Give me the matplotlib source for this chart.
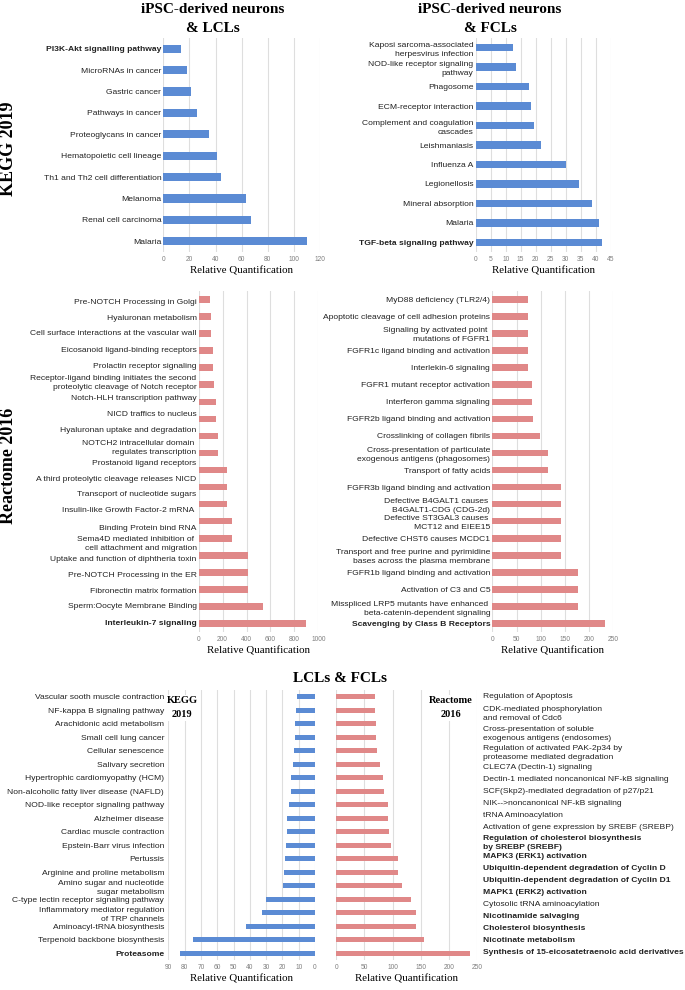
import matplotlib
matplotlib.use('Agg')
import matplotlib.pyplot as plt

# ---- data (listed top to bottom as in the figure) ----
kegg_lcl_labels = ['PI3K-Akt signalling pathway', 'MicroRNAs in cancer', 'Gastric cancer',
                   'Pathways in cancer', 'Proteoglycans in cancer', 'Hematopoietic cell lineage',
                   'Th1 and Th2 cell differentiation', 'Melanoma', 'Renal cell carcinoma', 'Malaria']
kegg_lcl_vals = [13.6, 18.5, 21.3, 25.6, 35.1, 41.0, 44.1, 63.3, 67.2, 109.7]

kegg_fcl_labels = ['Kaposi sarcoma-associated\nherpesvirus infection',
                   'NOD-like receptor signaling\npathway', 'Phagosome', 'ECM-receptor interaction',
                   'Complement and coagulation\ncascades', 'Leishmaniasis', 'Influenza A',
                   'Legionellosis', 'Mineral absorption', 'Malaria', 'TGF-beta signaling pathway']
kegg_fcl_vals = [12.3, 13.3, 17.8, 18.4, 19.4, 21.7, 30.2, 34.4, 38.7, 41.0, 42.2]

react_lcl_labels = ['Pre-NOTCH Processing in Golgi', 'Hyaluronan metabolism',
                    'Cell surface interactions at the vascular wall', 'Eicosanoid ligand-binding receptors',
                    'Prolactin receptor signaling',
                    'Receptor-ligand binding initiates the second\nproteolytic cleavage of Notch receptor',
                    'Notch-HLH transcription pathway', 'NICD traffics to nucleus',
                    'Hyaluronan uptake and degradation',
                    'NOTCH2 intracellular domain \nregulates transcription', 'Prostanoid ligand receptors',
                    'A third proteolytic cleavage releases NICD', 'Transcport of nucleotide sugars',
                    'Insulin-like Growth Factor-2 mRNA \n\nBinding Protein bind RNA',
                    'Sema4D mediated inhibition of \ncell attachment and migration',
                    'Uptake and function of diphtheria toxin', 'Pre-NOTCH Processing in the ER',
                    'Fibronectin matrix formation', 'Sperm:Oocyte Membrane Binding',
                    'Interleukin-7 signaling']
react_lcl_vals = [92, 100, 100, 117, 117, 128, 142, 142, 158, 158,
                  236, 236, 236, 275, 275, 411, 411, 411, 536, 894]

react_fcl_labels = ['MyD88 deficiency (TLR2/4)', 'Apoptotic cleavage of cell adhesion proteins',
                    'Signaling by activated point \nmutations of FGFR1',
                    'FGFR1c ligand binding and activation', 'Interlekin-6 signaling',
                    'FGFR1 mutant receptor activation', 'Interferon gamma signaling',
                    'FGFR2b ligand binding and activation', 'Crosslinking of collagen fibrils',
                    'Cross-presentation of particulate\nexogenous antigens (phagosomes)',
                    'Transport of fatty acids', 'FGFR3b ligand binding and activation',
                    'Defective B4GALT1 causes \nB4GALT1-CDG (CDG-2d)',
                    'Defective ST3GAL3 causes \nMCT12 and EIEE15', 'Defective CHST6 causes MCDC1',
                    'Transport and free purine and pyrimidine\nbases across the plasma membrane',
                    'FGFR1b ligand binding and activation', 'Activation of C3 and C5',
                    'Misspliced LRP5 mutants have enhanced \nbeta-catenin-dependent signaling',
                    'Scavenging by Class B Receptors']
react_fcl_vals = [74, 74, 74, 74, 74, 82, 82, 85, 98, 116,
                  116, 141, 141, 141, 141, 141, 177, 177, 177, 232]

both_kegg_labels = ['Vascular sooth muscle contraction', 'NF-kappa B signaling pathway',
                    'Arachidonic acid metabolism', 'Small cell lung cancer', 'Cellular senescence',
                    'Salivary secretion', 'Hypertrophic cardiomyopathy (HCM)',
                    'Non-alcoholic fatty liver disease (NAFLD)', 'NOD-like receptor signaling pathway',
                    'Alzheimer disease', 'Cardiac muscle contraction', 'Epstein-Barr virus infection',
                    'Pertussis', 'Arginine and proline metabolism',
                    'Amino sugar and nucleotide\nsugar metabolism',
                    'C-type lectin receptor signaling pathway',
                    'Inflammatory mediator regulation\nof TRP channels',
                    'Aminoacyl-tRNA biosynthesis', 'Terpenoid backbone biosynthesis', 'Proteasome']
both_kegg_vals = [11.2, 11.9, 12.1, 12.3, 12.7, 13.3, 14.7, 14.7, 15.7, 17.2,
                  17.2, 18.0, 18.2, 19.2, 19.8, 30.1, 32.3, 42.5, 74.7, 82.8]

both_react_labels = ['Regulation of Apoptosis', 'CDK-mediated phosphorylation\nand removal of Cdc6',
                     'Cross-presentation of soluble\nexogenous antigens (endosomes)',
                     'Regulation of activated PAK-2p34 by\nproteasome mediated degradation',
                     'CLEC7A (Dectin-1) signaling', 'Dectin-1 mediated noncanonical NF-kB signaling',
                     'SCF(Skp2)-mediated degradation of p27/p21', 'NIK-->noncanonical NF-kB signaling',
                     'tRNA Aminoacylation', 'Activation of gene expression by SREBF (SREBP)',
                     'Regulation of cholesterol biosynthesis\nby SREBP (SREBF)',
                     'MAPK3 (ERK1) activation', 'Ubiquitin-dependent degradation of Cyclin D',
                     'Ubiquitin-dependent degradation of Cyclin D1', 'MAPK1 (ERK2) activation',
                     'Cytosolic tRNA aminoacylation', 'Nicotinamide salvaging',
                     'Cholesterol biosynthesis', 'Nicotinate metabolism',
                     'Synthesis of 15-eicosatetraenoic acid derivatives']
both_react_vals = [68, 68, 70.5, 70.5, 71.7, 78, 83, 85, 92, 92,
                   93.6, 97, 109.6, 109.6, 116.7, 132.7, 142, 142, 156.4, 237]

bold_labels = ['PI3K-Akt signalling pathway', 'TGF-beta signaling pathway', 'Interleukin-7 signaling',
               'Scavenging by Class B Receptors', 'Proteasome',
               'Regulation of cholesterol biosynthesis\nby SREBP (SREBF)', 'MAPK3 (ERK1) activation',
               'Ubiquitin-dependent degradation of Cyclin D',
               'Ubiquitin-dependent degradation of Cyclin D1', 'MAPK1 (ERK2) activation',
               'Nicotinamide salvaging', 'Cholesterol biosynthesis', 'Nicotinate metabolism',
               'Synthesis of 15-eicosatetraenoic acid derivatives']

# label rows in the two Reactome panels don't sit exactly on the bars in the original
react_lcl_label_rows = [0.1, 1.04, 1.97, 2.91, 3.85, 4.8, 5.76, 6.7, 7.6, 8.59,
                        9.55, 10.49, 11.39, 12.79, 14.22, 15.17, 16.11, 17.05, 17.95, 18.92]
both_react_label_rows = [-0.06, 1.13, 2.6, 4.04, 5.18, 6.07, 6.98, 7.85, 8.71, 9.63,
                         10.69, 11.77, 12.66, 13.52, 14.39, 15.3, 16.19, 17.06, 17.97, 18.89]

BLUE = '#5b8bd4'
PINK = '#e08888'
SANS = 'Liberation Sans'
SERIF = 'Liberation Serif'

W, H = 685, 990
fig = plt.figure(figsize=(W / 100, H / 100), dpi=100)


def panel(x0, x1, y0, y1, labels, vals, color, ticks, pad=1.5, reverse=False, right=False,
          label_rows=None):
    # pixel box -> figure fraction
    ax = fig.add_axes([x0 / W, 1 - y1 / H, (x1 - x0) / W, (y1 - y0) / H])
    pos = list(range(len(vals)))
    ax.barh(pos, vals, height=0.38, color=color, zorder=3)
    ax.set_ylim(len(vals) - 0.5, -0.5)
    if reverse:
        ax.set_xlim(ticks[-1], ticks[0])
    else:
        ax.set_xlim(ticks[0], ticks[-1])
    ax.set_xticks(ticks)
    ax.set_xticklabels([str(t) for t in ticks], fontsize=4.8, color='#7f7f7f', family=SANS)
    ax.grid(axis='x', color='#dedede', linewidth=0.8, zorder=0)
    for s in ax.spines.values():
        s.set_visible(False)
    ax.tick_params(length=0)
    ax.tick_params(axis='x', pad=3)
    if right:
        ax.yaxis.tick_right()
    if label_rows is None:
        label_rows = pos
    ax.set_yticks(label_rows)
    ax.set_yticklabels(labels, fontsize=6.1, family=SANS, color='#222222')
    ax.tick_params(axis='y', pad=pad)
    for t in ax.get_yticklabels():
        t.set_linespacing(1.4)
        if t.get_text() in bold_labels:
            t.set_fontweight('bold')
        if right:
            t.set_horizontalalignment('left')
    ax.set_xlabel('Relative Quantification', fontsize=7.8, family=SERIF, labelpad=2)
    return ax


panel(163.3, 320, 38, 252, kegg_lcl_labels, kegg_lcl_vals, BLUE, [0, 20, 40, 60, 80, 100, 120])
panel(475.7, 610.7, 38, 252, kegg_fcl_labels, kegg_fcl_vals, BLUE, [0, 5, 10, 15, 20, 25, 30, 35, 40, 45])
panel(198.7, 318.3, 290.8, 632.2, react_lcl_labels, react_lcl_vals, PINK, [0, 200, 400, 600, 800, 1000],
      label_rows=react_lcl_label_rows)
panel(492.3, 613.3, 290.8, 632.2, react_fcl_labels, react_fcl_vals, PINK, [0, 50, 100, 150, 200, 250])
ax5 = panel(168.3, 315, 690, 960, both_kegg_labels, both_kegg_vals, BLUE,
            [0, 10, 20, 30, 40, 50, 60, 70, 80, 90], pad=3, reverse=True)
ax6 = panel(336.3, 477, 690, 960, both_react_labels, both_react_vals, PINK,
            [0, 50, 100, 150, 200, 250], pad=4, right=True, label_rows=both_react_label_rows)

ax5.text(0.093, 0.934, 'KEGG\n2019', transform=ax5.transAxes, ha='center', va='center',
         fontsize=7.5, fontweight='bold', family=SERIF, linespacing=1.75, zorder=5,
         bbox=dict(facecolor='white', edgecolor='none', pad=1))
ax6.text(0.813, 0.934, 'Reactome\n2016', transform=ax6.transAxes, ha='center', va='center',
         fontsize=7.5, fontweight='bold', family=SERIF, linespacing=1.75, zorder=5,
         bbox=dict(facecolor='white', edgecolor='none', pad=1))

# titles and row labels
fig.text(213 / W, 1 - 19 / H, 'iPSC-derived neurons\n& LCLs', ha='center', va='center',
         fontsize=11, fontweight='bold', family=SERIF, linespacing=1.55)
fig.text(490 / W, 1 - 19 / H, 'iPSC-derived neurons\n& FCLs', ha='center', va='center',
         fontsize=11, fontweight='bold', family=SERIF, linespacing=1.55)
fig.text(340 / W, 1 - 678 / H, 'LCLs & FCLs', ha='center', va='center',
         fontsize=11, fontweight='bold', family=SERIF)
fig.text(9 / W, 1 - 149 / H, 'KEGG 2019', ha='center', va='center', rotation=90,
         fontsize=13, fontweight='bold', family=SERIF)
fig.text(9 / W, 1 - 466 / H, 'Reactome 2016', ha='center', va='center', rotation=90,
         fontsize=13, fontweight='bold', family=SERIF)

fig.savefig('out.png', dpi=100)
